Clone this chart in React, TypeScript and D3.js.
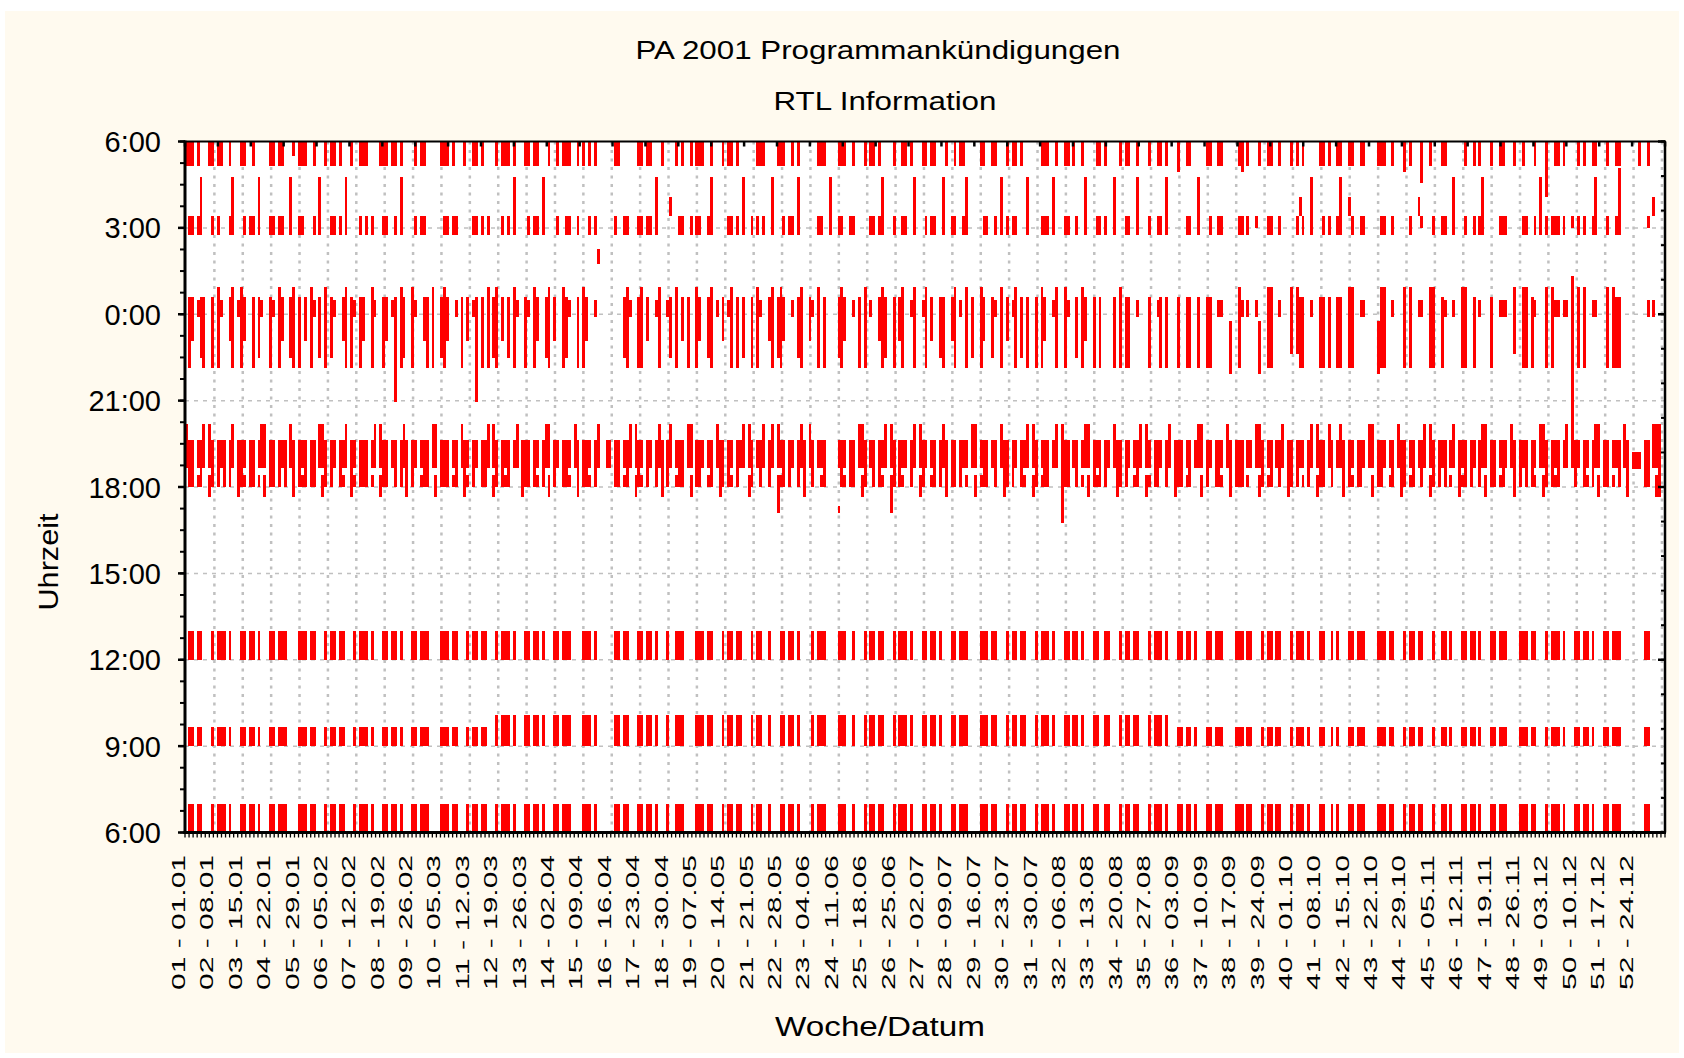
import React from 'react';
import * as d3 from 'd3';

// week tick labels (Woche - Montag)
const weekLabels = [
  '01 - 01.01', '02 - 08.01', '03 - 15.01', '04 - 22.01', '05 - 29.01', '06 - 05.02', '07 - 12.02',
  '08 - 19.02', '09 - 26.02', '10 - 05.03', '11 - 12.03', '12 - 19.03', '13 - 26.03', '14 - 02.04',
  '15 - 09.04', '16 - 16.04', '17 - 23.04', '18 - 30.04', '19 - 07.05', '20 - 14.05', '21 - 21.05',
  '22 - 28.05', '23 - 04.06', '24 - 11.06', '25 - 18.06', '26 - 25.06', '27 - 02.07', '28 - 09.07',
  '29 - 16.07', '30 - 23.07', '31 - 30.07', '32 - 06.08', '33 - 13.08', '34 - 20.08', '35 - 27.08',
  '36 - 03.09', '37 - 10.09', '38 - 17.09', '39 - 24.09', '40 - 01.10', '41 - 08.10', '42 - 15.10',
  '43 - 22.10', '44 - 29.10', '45 - 05.11', '46 - 12.11', '47 - 19.11', '48 - 26.11', '49 - 03.12',
  '50 - 10.12', '51 - 17.12', '52 - 24.12',
];

const hourTicks = [6, 9, 12, 15, 18, 21, 24, 27, 30];
const hourTickLabels = ['6:00', '9:00', '12:00', '15:00', '18:00', '21:00', '0:00', '3:00', '6:00'];

// one string per week, one char per day (Mo..So)
// S = 6:00 / 9:00 (short) / 12:00, L = same with long 9:00 slot
const weekdayWeeks = [
  '.SSSS..', 'SSSSS..', 'SSSSS..', 'SSSSS..', 'SSSSS..', 'SSSSS..', 'SSSSS..', 'SSSSS..',
  'SSSSS..', 'SSSSS..', 'SSSSS..', 'LLLLL..', 'LLLLL..', 'LLLLL..', 'LLLL...', '.LLLL..',
  'LLLLL..', 'L.LLL..', 'LLLLL..', 'LLLLL..', 'LLL.L..', 'LLLLL..', '.LLLL..', 'LLL.L..',
  'LLLLL..', 'LLLLL..', 'LLLLL..', 'LLLLL..', 'LLLLL..', 'LLLLL..', 'LLLLL..', 'LLLLL..',
  'LL.LL..', 'LLLLL..', 'LLLLL..', 'SSSSS..', 'SSSSS..', 'SSSSS..', 'SSSSS..', 'SSSSS..',
  'SS.SS..', 'SSSSS..', 'SSSSS..', 'SSSSS..', 'S.SSS..', 'SSSSS..', 'SSSSS..', 'SSSSS..',
  'SSSSS..', 'SSSSS..', 'SSSSS..', '...SS..', '.',
];

const eveningWeeks = [
  'SAACASU', 'AADAASV', 'ACAACSU', 'AAADASV', 'ACAAASU', 'AADACSV', 'CAAACSU', 'AADAASV',
  'ADCAASU', 'AAACASV', 'CADAASU', 'AACADSV', 'AAACASU', 'ADAACSV', 'AACAS.D', 'DAACASU',
  'ACADASV', 'ASCAASU', 'AADCASV', 'AACADSU', 'ADASASW', 'CAADASV', 'SADCA..', 'PACAASU',
  'ADAACSW', 'AACDASU', 'ADCAASV', 'AAADCSU', 'CAADASV', 'AADACSU', 'ACAADSX', 'AADACSU',
  'ACAADSV', 'AADCASU', 'CAADASV', 'AACADSU', 'ADAACSV', 'AAACDSU', 'ACADASV', 'AADCASU',
  'AASADSV', 'ACAADSU', 'AADCASV', 'ACADASU', 'AADACSV', 'CAADASU', 'AACADSV', 'ADAACSU',
  'AACADSS', 'ADACASU', 'AACDASV', 'GGGAASU', 'E',
];

const nightWeeks = [
  '.nmsln.', 'nNs.mNs', 'Nm.nls.', 'nsNm.lN', 'n.mNsl.', 'Nls.mNn', 'snm.Ns.', 'nmszNl.',
  'Ns.mnN.', 'lNm.sn.', 'mszn.Nl', 'Nm.lNs.', 'nsNm.lN', 'm.Nls.n', 'Nm.s...', '...lNs.',
  'nNm.sN.', 'slN.mn.', 'Nm.lNs.', 'msNn.l.', 'nNs.mNl', 'Nm.slN.', 'msN.n..', 'lNm.sn.',
  'Ns.mNl.', 'nmN.sN.', 'sNm.ln.', 'mNs.Nl.', 'Nm.lsN.', 'msNl.n.', 'nNm.sN.', 'Ns.lNm.',
  'n.n..n.', 'Nnn.s..', 'n.snn..', 'n.nn.n.', 'nn.ss.k', '.Nss.sk', '.NN.s..', 'BBnn.s.',
  'nnn.nn.', 'NN.ss..', 'kNN.s..', 'NN.ss.N', 'N.ns.s.', 'NN.ns..', 'n.sss.B', '.NNns..',
  'NNssssZ', '.NN.ss.', '.NNnn..', '....ss.', '.',
];

const earlyWeeks = [
  '.rrrR..', 'rr..rR.', '.rrrR..', 'rrrr.R.', 'rr..rR.', '.rrr.R.', '.r.rr..', 'rr.rR..',
  '.rrr...', '.rrrr..', '.rrr.r.', '.r.rR..', '.rrrR..', '.r.rr.r', '..rrx..', '.r.rr..',
  'rrrrR..', '.y.rr.r', 'rr.rR..', '.rrr.R.', 'rr.r.R.', '.rrrR..', '..rr.R.', 'rr.rr..',
  '.rrrR..', 'r.rr.R.', '.rrr.R.', 'rr.rR..', '.rr.rR.', 'rrr..R.', '.rrrR..', 'rr.r.R.',
  '.rrr.R.', '.rr.R..', 'r.rrR..', '..rr.R.', '.r.rr..', '.rrr.h.', '.rr.r..', '.ryr.R.',
  '.rr.rR.', 'yr.rr..', '.rr.r..', '.r.yh..', 'r.rr.R.', '.r.rrR.', '..rrr..', '.rr.rR.',
  'rrrrr.h', '.rr.rR.', '.r.rQ..', '....hy.', '.',
];

const dawnWeeks = [
  'tttt..t', 'ttt.t..', 'tt.t...', 'tttt..u', 'ttt.t..', 'tttt..t', '.ttt..t', 'ttttt..',
  '.ttt...', 'tttt..t', '.ttt...', 'ttttt..', 'tttt..t', '.tttt.t', 't.tt...', '.tt....',
  'tttt..t', '..t.t.t', 'ttt.t..', 'tttt...', '.ttt..t', 'tt.tt..', '..ttt..', 'ttt.t..',
  'tttt...', 't.ttt..', 'tttt..t', '.ttt...', 'tt.tt..', 'tttt...', '.ttt.t.', 'ttt.t..',
  '.ttt...', 'ttt.t..', 't.ttt..', 'w.tt...', 'tt.tt..', '.twt..t', '.tt.t..', 'tt.t...',
  'ttt.tt.', 'tt.tt..', 'ttt.t..', 'wt..x.t', '..tt...', '.t.tt..', 't.tt..t', '.t..t..',
  'y.ttt..', '.tt.tt.', '.t.tt..', '..t.t..', '.',
];

// code -> time slots
const weekdayCodes: Record<string, string[][]> = {
  S: [['6:00', '7:00'], ['9:00', '9:40'], ['12:00', '13:00']],
  L: [['6:00', '7:00'], ['9:00', '10:05'], ['12:00', '13:00']],
};
const eveningCodes: Record<string, string[][]> = {
  A: [['18:00', '19:38']],
  C: [['18:00', '18:25'], ['18:40', '19:38']],
  D: [['18:40', '19:38']],
  S: [['18:40', '20:12']],
  U: [['17:40', '18:25'], ['18:40', '20:12']],
  V: [['17:40', '19:38']],
  E: [['17:40', '20:12']],
  G: [['18:38', '19:13']],
  W: [['17:05', '18:25'], ['18:40', '20:12']],
  X: [['16:45', '20:12']],
  P: [['17:05', '17:20'], ['18:40', '19:38']],
};
const nightCodes: Record<string, string[][]> = {
  s: [['23:55', '0:30']],
  m: [['23:05', '0:35']],
  l: [['22:28', '0:35']],
  n: [['22:07', '0:35']],
  N: [['22:07', '0:57']],
  B: [['22:38', '0:57']],
  k: [['21:55', '23:45']],
  z: [['20:58', '0:35']],
  Z: [['20:12', '1:20']],
};
const earlyCodes: Record<string, string[][]> = {
  r: [['2:45', '3:24']],
  R: [['2:45', '4:47']],
  h: [['3:00', '3:24']],
  x: [['1:45', '2:15']],
  y: [['3:25', '4:05']],
  Q: [['2:45', '5:05']],
};
const dawnCodes: Record<string, string[][]> = {
  t: [['5:08', '6:00']],
  u: [['5:30', '6:00']],
  w: [['4:57', '6:00']],
  x: [['4:33', '6:00']],
  y: [['4:05', '6:00']],
};

type Seg = { day: number; from: number; to: number };

const toHours = (s: string, nextDay: boolean) => {
  const [h, m] = s.split(':').map(Number);
  let v = h + m / 60;
  if (nextDay && v <= 12) v += 24;
  return v;
};

function buildSegs(weeks: string[], codes: Record<string, string[][]>, nextDay: boolean): Seg[] {
  const out: Seg[] = [];
  weeks.forEach((w, k) => {
    w.split('').forEach((c, j) => {
      const slots = codes[c];
      if (!slots) return;
      slots.forEach(([a, b]) => {
        out.push({ day: k * 7 + j, from: toHours(a, nextDay), to: toHours(b, nextDay) });
      });
    });
  });
  return out;
}

const FONT = "'Liberation Sans', Arial, sans-serif";

export default function App() {
  const width = 1684;
  const height = 1058;
  const left = 185, right = 1665, top = 141.5, bottom = 832.5;

  const x = d3.scaleLinear().domain([0, 365]).range([left, right]);
  const y = d3.scaleLinear().domain([6, 30]).range([bottom, top]);

  // original chart was a low-res bitmap: snap bars to its coarse pixel grid
  const cell = 2.9;
  const barX = (d: number) => left + Math.floor((x(d) - left) / cell) * cell;

  const segs: Seg[] = [
    ...buildSegs(weekdayWeeks, weekdayCodes, false),
    ...buildSegs(eveningWeeks, eveningCodes, false),
    ...buildSegs(nightWeeks, nightCodes, true),
    ...buildSegs(earlyWeeks, earlyCodes, true),
    ...buildSegs(dawnWeeks, dawnCodes, true),
  ];

  const minorLeft = d3.range(6, 30.001, 0.75);
  const minorRight = d3.range(6, 30.001, 1.2);
  const topTicks = d3.range(0, 46).map(i => left + i * (right - left) / 45);
  const dayTicks = d3.range(0, 366);
  const weekGrid = d3.range(1, 53);

  return (
    <svg width={width} height={height} style={{ position: 'absolute', left: 0, top: 0, display: 'block' }}
      fontFamily={FONT}>
      <rect x={0} y={0} width={width} height={height} fill="#ffffff" />
      <rect x={5} y={11} width={1674} height={1042} fill="#fffaef" />

      <text x={878} y={59} textAnchor="middle" fontSize={26} textLength={485} lengthAdjust="spacingAndGlyphs">
        PA 2001 Programmankündigungen
      </text>
      <text x={885} y={110} textAnchor="middle" fontSize={26} textLength={223} lengthAdjust="spacingAndGlyphs">
        RTL Information
      </text>

      <rect x={left} y={top} width={right - left} height={bottom - top} fill="#ffffff" />

      {/* grid */}
      <g stroke="#c0c0c0" fill="none">
        {hourTicks.slice(1, -1).map(h => (
          <line key={'h' + h} x1={left} x2={right} y1={y(h)} y2={y(h)} strokeWidth={1.5} strokeDasharray="4,5" />
        ))}
        {weekGrid.map(k => (
          <line key={'v' + k} x1={x(k * 7) + 1} x2={x(k * 7) + 1} y1={top} y2={bottom} strokeWidth={2.5} strokeDasharray="3,5.5" />
        ))}
      </g>

      {/* bars */}
      <g fill="#ff0000" shapeRendering="crispEdges">
        {segs.map((s, i) => (
          <rect key={i} x={barX(s.day)} y={y(s.to)} width={cell} height={Math.max(1, y(s.from) - y(s.to))} />
        ))}
      </g>

      {/* axes frame */}
      <g stroke="#000" fill="none">
        <line x1={left} x2={left} y1={top - 1} y2={bottom + 1.5} strokeWidth={3} />
        <line x1={left - 1.5} x2={right + 1} y1={bottom} y2={bottom} strokeWidth={3} />
        <line x1={left} x2={right + 1} y1={top} y2={top} strokeWidth={2} />
        <line x1={right} x2={right} y1={top} y2={bottom} strokeWidth={2.5} />
      </g>

      {/* ticks */}
      <g stroke="#000">
        {minorLeft.map(h => (
          <line key={'ml' + h} x1={left - 5} x2={left} y1={y(h)} y2={y(h)} strokeWidth={2} />
        ))}
        {hourTicks.map(h => (
          <line key={'Ml' + h} x1={left - 7} x2={left} y1={y(h)} y2={y(h)} strokeWidth={2.5} />
        ))}
        {minorRight.map(h => (
          <line key={'mr' + h} x1={right - 4} x2={right} y1={y(h)} y2={y(h)} strokeWidth={2} />
        ))}
        {[6, 12, 18, 24, 30].map(h => (
          <line key={'Mr' + h} x1={right - 7} x2={right} y1={y(h)} y2={y(h)} strokeWidth={2.5} />
        ))}
        {topTicks.map((tx, i) => (
          <line key={'tt' + i} x1={tx} x2={tx} y1={top} y2={top + 5} strokeWidth={2.5} />
        ))}
        {dayTicks.map(d => (
          <line key={'dt' + d} x1={x(d)} x2={x(d)} y1={bottom} y2={bottom + 5} strokeWidth={1.3} />
        ))}
      </g>

      {/* y tick labels */}
      <g fontSize={29} textAnchor="end" fill="#000">
        {hourTicks.map((h, i) => (
          <text key={'yl' + i} x={161} y={y(h) + 10.5}>{hourTickLabels[i]}</text>
        ))}
      </g>

      {/* x tick labels */}
      <g fontSize={18.5} fill="#000">
        {weekLabels.map((lab, k) => (
          <text key={'xl' + k} transform={`translate(${x(k * 7)},855) rotate(-90)`} textAnchor="end"
            textLength={135} lengthAdjust="spacingAndGlyphs">{lab}</text>
        ))}
      </g>

      <text transform="translate(58,562) rotate(-90)" textAnchor="middle" fontSize={27} textLength={97}
        lengthAdjust="spacingAndGlyphs">Uhrzeit</text>
      <text x={880} y={1036} textAnchor="middle" fontSize={27} textLength={210}
        lengthAdjust="spacingAndGlyphs">Woche/Datum</text>
    </svg>
  );
}
